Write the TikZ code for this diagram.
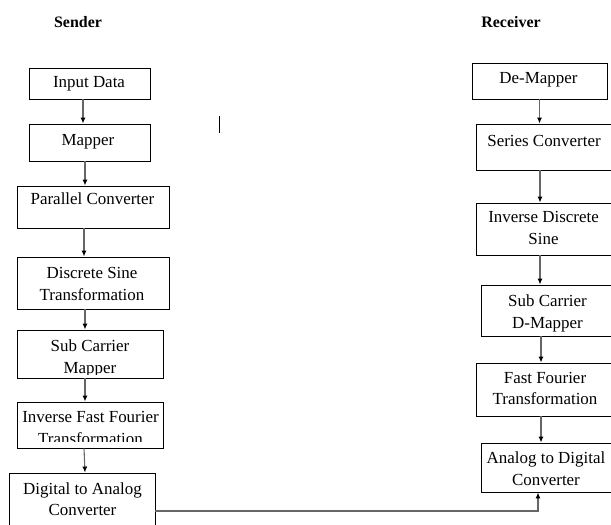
\documentclass[tikz,border=0pt]{standalone}
\usepackage{fontspec}
\setmainfont{Liberation Serif}
\usetikzlibrary{arrows.meta}
\begin{document}
\begin{tikzpicture}[x=1bp,y=-1bp,
  box/.style={draw=black,line width=0.9bp,rectangle,inner sep=0pt},
  txt/.style={font=\fontsize{17}{22}\selectfont,align=center,inner sep=0pt,text=black},
  ttl/.style={font=\fontsize{16}{20}\selectfont\bfseries,inner sep=0pt},
  arr/.style={draw=black!60,line width=1.1bp,-{Latex[length=6bp,width=5bp,fill=black,color=black]}}]
\useasboundingbox (0,0) rectangle (611,525);
\begin{scope}
\clip (0,0) rectangle (611,525);
% titles
\node[ttl] (ts) at (78,22) {Sender};
\node[ttl] (tr) at (511,22) {Receiver};
% sender boxes
\node[box,minimum width=121bp,minimum height=31bp] (in) at (89.5,83.5) {};
\node[box,minimum width=121bp,minimum height=37bp] (map) at (89.5,142.5) {};
\node[box,minimum width=152bp,minimum height=42bp] (par) at (93,207) {};
\node[box,minimum width=152bp,minimum height=52bp] (dst) at (93,283) {};
\node[box,minimum width=146bp,minimum height=48bp] (scm) at (90,354) {};
\node[box,minimum width=146bp,minimum height=46bp] (ifft) at (90,425) {};
\node[box,minimum width=146bp,minimum height=67bp] (dac) at (82,506.5) {};
% sender texts
\node[txt] (tin) at (89,84) {Input Data};
\node[txt] (tmap) at (88,142.2) {Mapper};
\node[txt] (tpar) at (92.5,199.2) {Parallel Converter};
\node[txt] (tdst) at (92,283.7) {Discrete Sine\\Transformation};
\begin{scope}
\clip (17,331) rectangle (163,374);
\node[txt] (tscm) at (90,358.5) {Sub Carrier\\Mapper};
\end{scope}
\begin{scope}
\clip (17,403) rectangle (163,441.5);
\node[txt] (tifft) at (90.5,427.8) {Inverse Fast Fourier\\Transformation};
\end{scope}
\node[txt] (tdac) at (82.5,499.2) {Digital to Analog\\Converter};
% receiver boxes
\node[box,minimum width=135bp,minimum height=36bp] (dem) at (539.5,81) {};
\node[box,minimum width=144bp,minimum height=46bp] (ser) at (548,147) {};
\node[box,minimum width=144bp,minimum height=52bp] (ids) at (548,229) {};
\node[box,minimum width=139bp,minimum height=51bp] (scdm) at (550.5,310.5) {};
\node[box,minimum width=144bp,minimum height=53bp] (fft) at (548,389.5) {};
\node[box,minimum width=139bp,minimum height=49bp] (adc) at (550.5,467.5) {};
% receiver texts
\node[txt] (tdem) at (538.5,79.5) {De-Mapper};
\node[txt] (tser) at (544,141) {Series Converter};
\node[txt] (tids) at (543.5,227.9) {Inverse Discrete\\Sine};
\node[txt] (tscdm) at (547.5,313) {Sub Carrier\\D-Mapper};
\node[txt] (tfft) at (545,388.5) {Fast Fourier\\Transformation};
\node[txt] (tadc) at (546,468.5) {Analog to Digital\\Converter};
% sender arrows
\draw[arr] (in.south -| 83,0) -- (map.north -| 83,0);
\draw[arr] (map.south -| 85,0) -- (par.north -| 85,0);
\draw[arr] (par.south -| 84,0) -- (dst.north -| 84,0);
\draw[arr] (dst.south -| 85,0) -- (scm.north -| 85,0);
\draw[arr] (scm.south -| 85,0) -- (ifft.north -| 85,0);
\draw[arr] (ifft.south -| 84,0) -- (dac.north -| 85,0);
% receiver arrows
\draw[arr] (dem.south -| 539.5,0) -- (ser.north -| 539.5,0);
\draw[arr] (ser.south -| 540,0) -- (ids.north -| 540,0);
\draw[arr] (ids.south -| 540,0) -- (scdm.north -| 540,0);
\draw[arr] (scdm.south -| 541,0) -- (fft.north -| 541,0);
\draw[arr] (fft.south -| 541,0) -- (adc.north -| 541,0);
% link sender -> receiver
\coordinate (j) at (538,511);
\draw[arr] (dac.east |- j) -- (j) -- (j |- adc.south);
% text cursor
\draw[line width=1.6bp,black] (219.5,116) -- (219.5,133);
\end{scope}
\end{tikzpicture}
\end{document}
